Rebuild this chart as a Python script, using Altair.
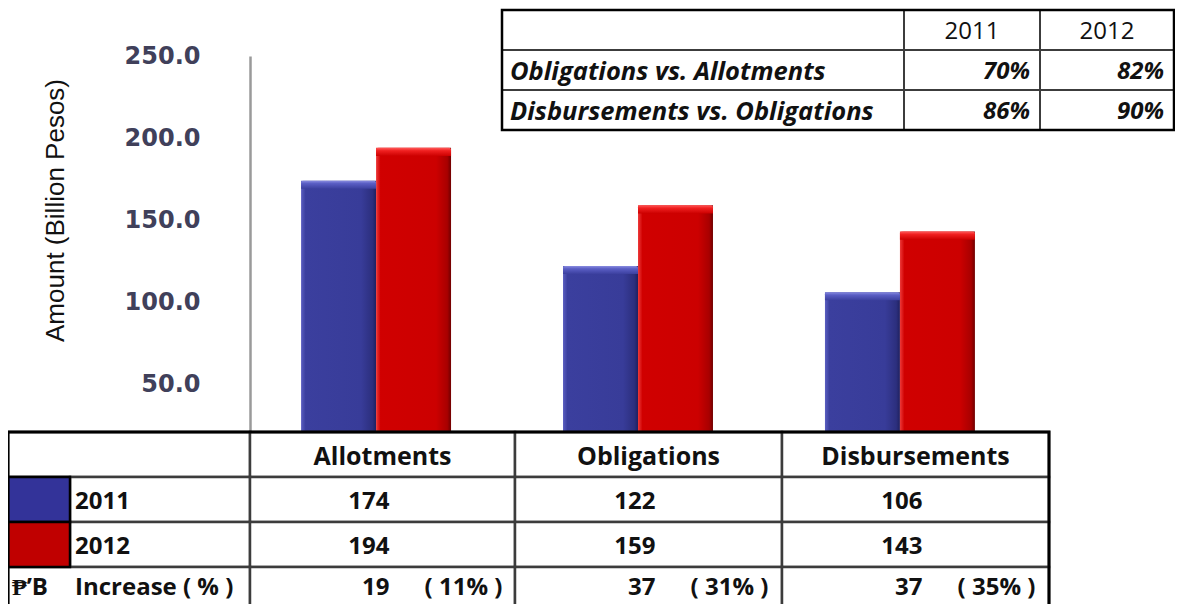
import altair as alt
import pandas as pd

# ---------------- data ----------------
categories = ["Allotments", "Obligations", "Disbursements"]
years = ["2011", "2012"]
amount_2011 = [174, 122, 106]
amount_2012 = [194, 159, 143]
increase_amount = [19, 37, 37]
increase_percent = ["11%", "31%", "35%"]
ratio_labels = ["Obligations vs. Allotments", "Disbursements vs. Obligations"]
ratio_2011 = ["70%", "86%"]
ratio_2012 = ["82%", "90%"]
y_tick_values = [50, 100, 150, 200, 250]
axis_title = "Amount (Billion Pesos)"
increase_label = "Increase ( % )"
peso_unit = "₱’B"

# ---------------- styles ----------------
BLUE = "#333399"
RED = "#c00000"
TABLE_FONT = "Open Sans"
GRID = "#3c3c3c"

bars_df = pd.DataFrame(
    [{"category": c, "year": "2011", "value": v} for c, v in zip(categories, amount_2011)]
    + [{"category": c, "year": "2012", "value": v} for c, v in zip(categories, amount_2012)]
)

x_enc = alt.X("category:N", sort=categories,
              scale=alt.Scale(domain=categories, paddingInner=0.4275, paddingOuter=0.195),
              axis=None)
xo_enc = alt.XOffset("year:N", scale=alt.Scale(domain=years))
y_scale = alt.Scale(domain=[0, 250], nice=False)
y_enc = alt.Y(
    "value:Q",
    scale=y_scale,
    axis=alt.Axis(
        values=y_tick_values, format=".1f", title=axis_title,
        grid=False, ticks=False, tickSize=0, labelPadding=50,
        labelFont="DejaVu Sans", labelFontSize=24, labelFontWeight="bold", labelColor="#40405a",
        domainColor="#9a9a9a", domainWidth=2.5,
        titleFont="Liberation Sans", titleFontSize=26, titleFontWeight="normal",
        titleColor="#111111", titleX=-195, titleY=154, titleAngle=270,
        titleAlign="center", titleBaseline="middle",
    ),
)


def hgrad(stops):
    return {"gradient": "linear", "x1": 0, "x2": 1, "y1": 0, "y2": 0,
            "stops": [{"offset": o, "color": c} for o, c in stops]}


def vgrad(stops):
    return {"gradient": "linear", "x1": 0, "x2": 0, "y1": 0, "y2": 1,
            "stops": [{"offset": o, "color": c} for o, c in stops]}


blue_grad = hgrad([(0, "#5a5ec0"), (0.06, "#3b3f9e"), (0.8, "#383c99"), (0.95, "#2c2f7e"), (1, "#1f2160")])
red_grad = hgrad([(0, "#ee3a3a"), (0.06, "#d00000"), (0.8, "#cc0000"), (0.95, "#a80000"), (1, "#700000")])
blue_cap = vgrad([(0, "#8a8de0"), (0.35, "#5a5ec4"), (1, "#3b3f9e")])
red_cap = vgrad([(0, "#ff5a5a"), (0.35, "#f02020"), (1, "#cc0000")])

base = alt.Chart(bars_df).encode(x=x_enc, xOffset=xo_enc, y=y_enc)
b11 = base.transform_filter("datum.year == '2011'").mark_bar(fill=blue_grad)
b12 = base.transform_filter("datum.year == '2012'").mark_bar(fill=red_grad)
cap_base = alt.Chart(bars_df).transform_calculate(cap="datum.value - 5").encode(
    x=x_enc, xOffset=xo_enc, y=y_enc, y2="cap:Q")
c11 = cap_base.transform_filter("datum.year == '2011'").mark_bar(fill=blue_cap, cornerRadiusTopLeft=2, cornerRadiusTopRight=2)
c12 = cap_base.transform_filter("datum.year == '2012'").mark_bar(fill=red_cap, cornerRadiusTopLeft=2, cornerRadiusTopRight=2)
bars = alt.layer(b11, b12, c11, c12)

# ---------------- bottom table ----------------
bt_x = alt.Scale(domain=[0, 1, 2, 3, 4, 5], range=[-242, -180, 0, 265, 532, 799], nice=False, zero=False)
bt_y = alt.Scale(domain=[0, 4], range=[376, 556], nice=False, zero=False)

bt_cells = []
bt_cells.append({"c0": 0, "c1": 2, "r": 0, "fill": "white"})
for i in range(len(categories)):
    bt_cells.append({"c0": i + 2, "c1": i + 3, "r": 0, "fill": "white"})
for r, col in zip([1, 2], [BLUE, RED]):
    bt_cells.append({"c0": 0, "c1": 1, "r": r, "fill": col})
    bt_cells.append({"c0": 1, "c1": 2, "r": r, "fill": "white"})
    for i in range(len(categories)):
        bt_cells.append({"c0": i + 2, "c1": i + 3, "r": r, "fill": "white"})
bt_cells.append({"c0": 0, "c1": 2, "r": 3, "fill": "white"})
for i in range(len(categories)):
    bt_cells.append({"c0": i + 2, "c1": i + 3, "r": 3, "fill": "white"})
bt_cells_df = pd.DataFrame(bt_cells)

bt_rects = alt.Chart(bt_cells_df).transform_calculate(r1="datum.r + 1").mark_rect(
    stroke=GRID, strokeWidth=2.5
).encode(
    x=alt.X("c0:Q", scale=bt_x, axis=None), x2="c1:Q",
    y=alt.Y("r:Q", scale=bt_y, axis=None), y2="r1:Q",
    fill=alt.Fill("fill:N", scale=None),
)
swatch_border = alt.Chart(bt_cells_df).transform_filter("datum.c1 - datum.c0 == 1 && datum.c0 == 0").transform_calculate(
    r1="datum.r + 1").mark_rect(stroke="#000000", strokeWidth=2.5).encode(
    x=alt.X("c0:Q", scale=bt_x, axis=None), x2="c1:Q",
    y=alt.Y("r:Q", scale=bt_y, axis=None), y2="r1:Q",
    fill=alt.Fill("fill:N", scale=None),
)
bt_border = alt.Chart(pd.DataFrame([{"c0": 0, "c1": 5, "r0": 0, "r1": 4}])).mark_rect(
    stroke="#000000", strokeWidth=3, fillOpacity=0
).encode(
    x=alt.X("c0:Q", scale=bt_x, axis=None), x2="c1:Q",
    y=alt.Y("r0:Q", scale=bt_y, axis=None), y2="r1:Q",
)


def bt_text(records, align, dx, size=24, weight="bold", dy=2):
    return alt.Chart(pd.DataFrame(records)).mark_text(
        font=TABLE_FONT, fontSize=size, fontWeight=weight, color="#111111",
        align=align, baseline="middle", dx=dx, dy=dy,
    ).encode(
        x=alt.X("x:Q", scale=bt_x, axis=None),
        y=alt.Y("y:Q", scale=bt_y, axis=None),
        text="text:N",
    )


hdr_recs = [{"text": c, "x": i + 2.5, "y": 0.5} for i, c in enumerate(categories)]
val_recs = ([{"text": str(v), "x": i + 2.5, "y": 1.5} for i, v in enumerate(amount_2011)]
            + [{"text": str(v), "x": i + 2.5, "y": 2.5} for i, v in enumerate(amount_2012)])
inc_recs = [{"text": str(v), "x": i + 2.5, "y": 3.5} for i, v in enumerate(increase_amount)]
pct_recs = [{"text": "( " + p + " )", "x": i + 2.5, "y": 3.5} for i, p in enumerate(increase_percent)]
lab_recs = [{"text": y, "x": 1, "y": j + 1.5} for j, y in enumerate(years)]
inc_lab_recs = [{"text": increase_label, "x": 1, "y": 3.5}]
unit_recs = [{"text": peso_unit, "x": 0, "y": 3.5}]

bt_texts = [
    bt_text(hdr_recs, "center", 0, size=25),
    bt_text(val_recs, "right", 7),
    bt_text(inc_recs, "right", 7, dy=-2),
    bt_text(pct_recs, "center", 81, dy=-2),
    bt_text(lab_recs, "left", 5),
    bt_text(inc_lab_recs, "left", 5, dy=-2),
    bt_text(unit_recs, "left", 4, dy=-2),
]

# ---------------- top ratio table ----------------
tt_x = alt.Scale(domain=[0, 1, 2, 3], range=[252, 654, 790, 924], nice=False, zero=False)
tt_y = alt.Scale(domain=[0, 3], range=[-46, 74], nice=False, zero=False)

tt_cells = pd.DataFrame([{"c0": c, "c1": c + 1, "r": r} for r in range(3) for c in range(3)])
tt_rects = alt.Chart(tt_cells).transform_calculate(r1="datum.r + 1").mark_rect(
    stroke=GRID, strokeWidth=2, fill="white"
).encode(
    x=alt.X("c0:Q", scale=tt_x, axis=None), x2="c1:Q",
    y=alt.Y("r:Q", scale=tt_y, axis=None), y2="r1:Q",
)
tt_border = alt.Chart(pd.DataFrame([{"c0": 0, "c1": 3, "r0": 0, "r1": 3}])).mark_rect(
    stroke="#000000", strokeWidth=2.5, fillOpacity=0
).encode(
    x=alt.X("c0:Q", scale=tt_x, axis=None), x2="c1:Q",
    y=alt.Y("r0:Q", scale=tt_y, axis=None), y2="r1:Q",
)


def tt_text(records, align, dx, style, weight, size):
    return alt.Chart(pd.DataFrame(records)).mark_text(
        font=TABLE_FONT, fontSize=size, fontWeight=weight, fontStyle=style, color="#111111",
        align=align, baseline="middle", dx=dx, dy=2,
    ).encode(
        x=alt.X("x:Q", scale=tt_x, axis=None),
        y=alt.Y("y:Q", scale=tt_y, axis=None),
        text="text:N",
    )


tt_hdr = [{"text": y, "x": j + 1.5, "y": 0.5} for j, y in enumerate(years)]
tt_lab = [{"text": t, "x": 0, "y": j + 1.5} for j, t in enumerate(ratio_labels)]
tt_val = ([{"text": v, "x": 2, "y": j + 1.5} for j, v in enumerate(ratio_2011)]
          + [{"text": v, "x": 3, "y": j + 1.5} for j, v in enumerate(ratio_2012)])

tt_texts = [
    tt_text(tt_hdr, "center", 0, "normal", "normal", 24),
    tt_text(tt_lab, "left", 8, "italic", "bold", 25.5),
    tt_text(tt_val, "right", -10, "italic", "bold", 24),
]

chart = alt.layer(
    bars, bt_rects, swatch_border, bt_border, *bt_texts, tt_rects, tt_border, *tt_texts
).resolve_scale(
    x="independent", y="independent"
).properties(
    width=776, height=410,
    padding={"left": 242, "top": 48, "right": 149, "bottom": 138},
    autosize=alt.AutoSizeParams(type="none"),
    background="white",
).configure_view(stroke=None)

chart.save("out.html", embed_options={"renderer": "svg", "actions": False})
